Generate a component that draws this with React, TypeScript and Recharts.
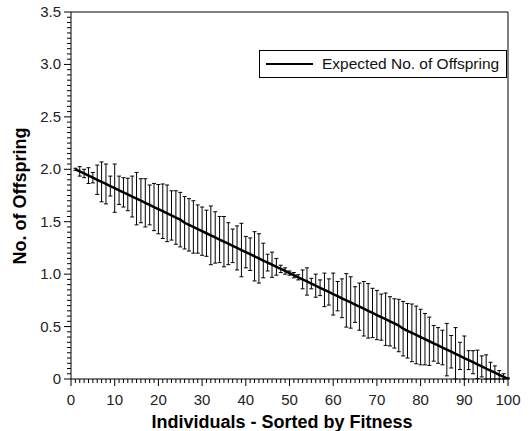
import React from 'react';
import { LineChart, Line, XAxis, YAxis, ErrorBar, ReferenceLine, Legend } from 'recharts';

// expected offspring per rank (rank 1 = fittest)
const expected = [
  2.0, 1.98, 1.96, 1.94, 1.92, 1.9, 1.88, 1.86, 1.84, 1.82,
  1.8, 1.78, 1.76, 1.74, 1.72, 1.7, 1.68, 1.66, 1.64, 1.62,
  1.6, 1.58, 1.56, 1.54, 1.52, 1.49, 1.47, 1.45, 1.43, 1.41,
  1.39, 1.37, 1.35, 1.33, 1.31, 1.29, 1.27, 1.25, 1.23, 1.21,
  1.19, 1.17, 1.15, 1.13, 1.11, 1.09, 1.07, 1.05, 1.03, 1.01,
  0.99, 0.97, 0.95, 0.93, 0.91, 0.89, 0.87, 0.85, 0.83, 0.81,
  0.79, 0.77, 0.75, 0.73, 0.71, 0.69, 0.67, 0.65, 0.63, 0.61,
  0.59, 0.57, 0.55, 0.53, 0.51, 0.48, 0.46, 0.44, 0.42, 0.4,
  0.38, 0.36, 0.34, 0.32, 0.3, 0.28, 0.26, 0.24, 0.22, 0.2,
  0.18, 0.16, 0.14, 0.12, 0.1, 0.08, 0.06, 0.04, 0.02, 0.0,
];

// spread (+/-) of the observed offspring counts
const spread = [
  0.01, 0.045, 0.04, 0.075, 0.05, 0.14, 0.19, 0.19, 0.095, 0.23,
  0.135, 0.14, 0.155, 0.195, 0.25, 0.21, 0.23, 0.19, 0.225, 0.235,
  0.26, 0.27, 0.235, 0.255, 0.26, 0.25, 0.25, 0.25, 0.23, 0.23,
  0.22, 0.28, 0.245, 0.22, 0.24, 0.2, 0.16, 0.21, 0.255, 0.15,
  0.155, 0.235, 0.235, 0.165, 0.08, 0.12, 0.08, 0.035, 0.03, 0.02,
  0.025, 0.025, 0.09, 0.13, 0.05, 0.11, 0.075, 0.16, 0.125, 0.2,
  0.14, 0.185, 0.255, 0.245, 0.17, 0.225, 0.26, 0.26, 0.235, 0.235,
  0.22, 0.25, 0.235, 0.235, 0.25, 0.26, 0.26, 0.275, 0.275, 0.265,
  0.245, 0.23, 0.17, 0.17, 0.165, 0.25, 0.155, 0.25, 0.13, 0.21,
  0.09, 0.11, 0.135, 0.1, 0.13, 0.08, 0.065, 0.04, 0.03, 0.01,
];

const xMajor = [0, 10, 20, 30, 40, 50, 60, 70, 80, 90, 100];
const xTickLabels = ['0', '10', '20', '30', '40', '50', '60', '70', '80', '90', '100'];
const yMajor = [0, 0.5, 1, 1.5, 2, 2.5, 3, 3.5];
const yTickLabels = ['0', '0.5', '1.0', '1.5', '2.0', '2.5', '3.0', '3.5'];

// minor ticks: every individual on x, every 0.05 on y
const xTicks = Array.from({ length: 101 }, (_, i) => i);
const yTicks = Array.from({ length: 71 }, (_, i) => Math.round(i * 5) / 100);

const data = expected.map((mean, k) => ({
  rank: k + 1,
  mean,
  err: [Math.min(spread[k], mean), spread[k]],
}));

const FONT = '"Liberation Sans", Arial, Helvetica, sans-serif';

const findMajor = (list: number[], v: number) => list.findIndex((m) => Math.abs(m - v) < 1e-6);

const XTick = (props: any) => {
  const { x, y, payload } = props;
  const idx = findMajor(xMajor, payload.value);
  return (
    <g>
      <line x1={x} y1={y} x2={x} y2={y + (idx >= 0 ? 7 : 4)} stroke="#000" strokeWidth={1} />
      {idx >= 0 && (
        <text x={x} y={y + 26} textAnchor="middle" fontSize={15} fill="#222" fontFamily={FONT}>
          {xTickLabels[idx]}
        </text>
      )}
    </g>
  );
};

const YTick = (props: any) => {
  const { x, y, payload } = props;
  const idx = findMajor(yMajor, payload.value);
  return (
    <g>
      <line x1={x - (idx >= 0 ? 7 : 4)} y1={y} x2={x} y2={y} stroke="#000" strokeWidth={1} />
      {idx >= 0 && (
        <text x={x - 10} y={y + 5} textAnchor="end" fontSize={15} fill="#222" fontFamily={FONT}>
          {yTickLabels[idx]}
        </text>
      )}
    </g>
  );
};

const LegendBox = () => (
  <div
    style={{
      border: '1px solid #000',
      height: 28,
      boxSizing: 'border-box',
      display: 'flex',
      alignItems: 'center',
      background: '#fff',
      fontFamily: FONT,
      fontSize: 15.5,
      color: '#111',
      whiteSpace: 'nowrap',
    }}
  >
    <svg width={47} height={4} style={{ marginLeft: 6, marginRight: 9 }}>
      <line x1={0} y1={2} x2={47} y2={2} stroke="#000" strokeWidth={2} />
    </svg>
    <span>Expected No. of Offspring</span>
  </div>
);

export default function App() {
  return (
    <div style={{ position: 'absolute', left: 0, top: 0, width: 530, height: 431, background: '#fff' }}>
      <LineChart width={530} height={431} data={data} margin={{ top: 12, right: 22, bottom: 0, left: 0 }}>
        <XAxis
          dataKey="rank"
          type="number"
          domain={[0, 100]}
          ticks={xTicks}
          interval={0}
          height={52}
          tickSize={0}
          tickMargin={0}
          tickLine={false}
          tick={<XTick />}
          stroke="#000"
          label={{
            content: () => (
              <text x={282} y={428} textAnchor="middle" fontSize={18} fontWeight="bold" fontFamily={FONT} fill="#000">
                Individuals - Sorted by Fitness
              </text>
            ),
          }}
        />
        <YAxis
          type="number"
          domain={[0, 3.5]}
          ticks={yTicks}
          interval={0}
          width={71}
          tickSize={0}
          tickMargin={0}
          tickLine={false}
          tick={<YTick />}
          stroke="#000"
          allowDataOverflow
          label={{
            content: () => (
              <text
                x={26}
                y={196}
                transform="rotate(-90 26 196)"
                textAnchor="middle"
                fontSize={18}
                fontWeight="bold"
                fontFamily={FONT}
                fill="#000"
              >
                No. of Offspring
              </text>
            ),
          }}
        />
        <ReferenceLine y={3.5} stroke="#000" strokeWidth={1} />
        <ReferenceLine x={100} stroke="#000" strokeWidth={1} />
        <Legend
          layout="horizontal"
          verticalAlign="middle"
          align="center"
          wrapperStyle={{ top: 50, left: 259, width: 248, height: 28 }}
          content={() => <LegendBox />}
        />
        <Line
          dataKey="mean"
          name="Expected No. of Offspring"
          stroke="#000"
          strokeWidth={2.5}
          dot={false}
          isAnimationActive={false}
        >
          <ErrorBar dataKey="err" width={2} stroke="#000" strokeWidth={1} direction="y" />
        </Line>
      </LineChart>
    </div>
  );
}
